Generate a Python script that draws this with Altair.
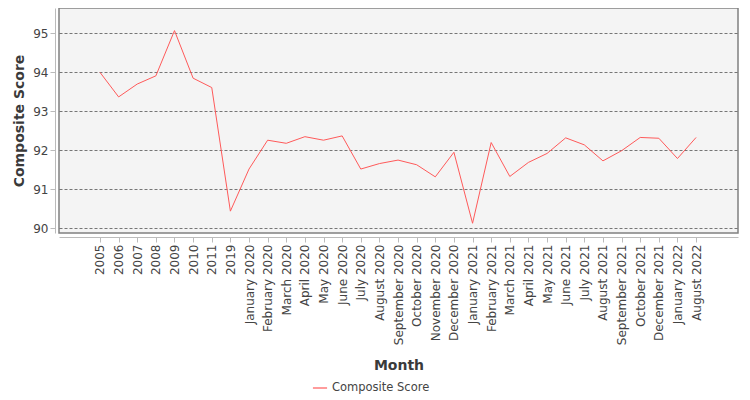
import json

import altair as alt
import pandas as pd

# Data
months = [
    "2005", "2006", "2007", "2008", "2009", "2010", "2011", "2019",
    "January 2020", "February 2020", "March 2020", "April 2020", "May 2020",
    "June 2020", "July 2020", "August 2020", "September 2020", "October 2020",
    "November 2020", "December 2020", "January 2021", "February 2021",
    "March 2021", "April 2021", "May 2021", "June 2021", "July 2021",
    "August 2021", "September 2021", "October 2021", "December 2021",
    "January 2022", "August 2022",
]
scores = [
    94.00, 93.37, 93.70, 93.91, 95.07, 93.85, 93.61, 90.44,
    91.52, 92.26, 92.18, 92.35, 92.26,
    92.37, 91.52, 91.66, 91.75, 91.63,
    91.32, 91.95, 90.13, 92.20,
    91.33, 91.69, 91.92, 92.32, 92.14,
    91.73, 91.99, 92.33, 92.31,
    91.79, 92.33,
]
y_ticks = [90, 91, 92, 93, 94, 95]

df = pd.DataFrame(
    {
        "idx": list(range(len(months))),
        "Month": months,
        "Score": scores,
        "Series": "Composite Score",
    }
)

FONT = "DejaVu Sans"

# category axis drawn on the index, labelled with the month names
month_label = f"{json.dumps(months)}[datum.value]"

line = (
    alt.Chart(df)
    .mark_line(strokeWidth=1, color="#ff5a5a")
    .encode(
        alt.X("idx:Q", title="Month")
        .scale(domain=[-2.2, len(months) - 1 + 2.25], nice=False, zero=False)
        .axis(
            values=list(range(len(months))),
            labelExpr=month_label,
            labelAngle=-90,
            offset=4,
            grid=False,
            titlePadding=14,
        ),
        alt.Y("Score:Q", title="Composite Score")
        .scale(domain=[89.88, 95.65], nice=False, zero=False)
        .axis(
            values=y_ticks,
            offset=4,
            titlePadding=6,
            grid=True,
            gridColor="#555555",
            gridDash=[3, 2],
            gridWidth=0.8,
        ),
        alt.Color("Series:N")
        .scale(domain=["Composite Score"], range=["#ff5a5a"])
        .legend(
            title=None,
            orient="none",
            legendX=253,
            legendY=372,
            symbolType="stroke",
            symbolSize=200,
            symbolStrokeWidth=1.2,
            labelFontSize=11.5,
            labelColor="#444444",
            labelFont=FONT,
        ),
        tooltip=["Month:N", "Score:Q"],
    )
)

chart = (
    line.properties(
        width=679,
        height=225,
        autosize=alt.AutoSizeParams(type="none"),
        padding={"left": 51, "top": 0, "right": 4, "bottom": 165},
    )
    .configure_view(fill="#f4f4f4", stroke="#808080", strokeWidth=1.5)
    .configure_axis(
        labelFont=FONT,
        labelFontSize=12,
        labelColor="#444444",
        titleFont=FONT,
        titleFontSize=14,
        titleFontWeight="bold",
        titleColor="#3a3a3a",
        domainColor="#bbbbbb",
        tickColor="#bbbbbb",
        tickSize=5,
    )
)

chart.save("out.html", embed_options={"renderer": "svg", "actions": False})
